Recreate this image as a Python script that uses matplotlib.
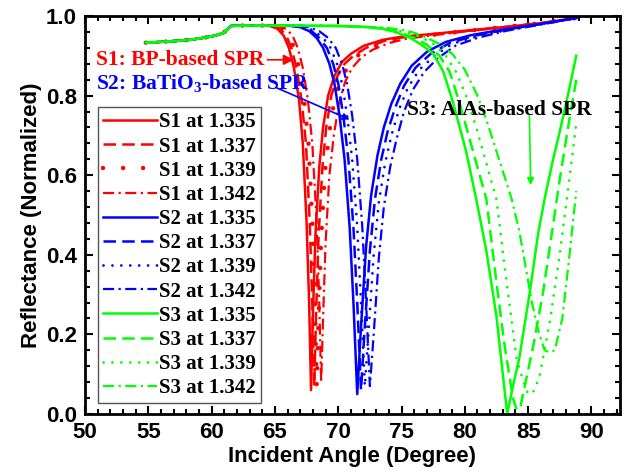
import matplotlib
matplotlib.use("Agg")
import matplotlib.pyplot as plt
from matplotlib.ticker import MultipleLocator

plt.rcParams["mathtext.fontset"] = "custom"
plt.rcParams["mathtext.bf"] = "Liberation Serif:bold"
plt.rcParams["mathtext.rm"] = "Liberation Serif"

# shared pre-resonance part (all 12 curves overlap here)
pre_x = [54.8, 55.5, 56.5, 57.5, 58.5, 59.5, 60.3, 60.9, 61.2, 61.5, 62.5, 63.5]
pre_r = [0.933, 0.934, 0.936, 0.938, 0.941, 0.946, 0.951, 0.957, 0.965, 0.975, 0.976, 0.976]

# S1: BP-based SPR
s1_x = {
    "1.335": [64.5, 65.2, 65.7, 66.1, 66.5, 66.9, 67.2, 67.5, 67.7, 67.85, 68.0, 68.2, 68.5, 68.8, 69.2, 69.7, 70.3, 71.0, 72.0, 73.5, 75.0, 77.5, 80.0, 83.0, 86.0, 88.8],
    "1.337": [64.7, 65.4, 65.9, 66.3, 66.7, 67.1, 67.45, 67.75, 67.95, 68.1, 68.25, 68.45, 68.75, 69.05, 69.45, 69.95, 70.5, 71.2, 72.2, 73.6, 75.0, 77.5, 80.0, 83.0, 86.0, 88.8],
    "1.339": [64.9, 65.6, 66.1, 66.5, 66.9, 67.3, 67.65, 67.95, 68.15, 68.3, 68.45, 68.65, 68.95, 69.3, 69.7, 70.2, 70.8, 71.5, 72.4, 73.8, 75.2, 77.5, 80.0, 83.0, 86.0, 88.8],
    "1.342": [65.2, 65.9, 66.4, 66.8, 67.2, 67.6, 67.95, 68.3, 68.5, 68.65, 68.8, 69.0, 69.3, 69.65, 70.05, 70.55, 71.1, 71.8, 72.7, 74.0, 75.4, 77.6, 80.0, 83.0, 86.0, 88.8],
}
s1_r = {
    "1.335": [0.976, 0.968, 0.95, 0.92, 0.87, 0.79, 0.68, 0.48, 0.28, 0.06, 0.25, 0.45, 0.62, 0.72, 0.80, 0.85, 0.885, 0.905, 0.925, 0.94, 0.948, 0.955, 0.963, 0.972, 0.982, 0.995],
    "1.337": [0.976, 0.968, 0.95, 0.92, 0.87, 0.79, 0.68, 0.48, 0.28, 0.07, 0.25, 0.45, 0.62, 0.72, 0.80, 0.85, 0.88, 0.90, 0.92, 0.937, 0.946, 0.954, 0.962, 0.972, 0.982, 0.995],
    "1.339": [0.976, 0.968, 0.95, 0.92, 0.87, 0.79, 0.68, 0.48, 0.28, 0.07, 0.25, 0.44, 0.61, 0.71, 0.79, 0.84, 0.875, 0.90, 0.918, 0.935, 0.945, 0.953, 0.962, 0.972, 0.982, 0.995],
    "1.342": [0.976, 0.968, 0.95, 0.92, 0.87, 0.79, 0.68, 0.48, 0.28, 0.08, 0.24, 0.43, 0.60, 0.70, 0.78, 0.835, 0.87, 0.895, 0.915, 0.932, 0.943, 0.952, 0.961, 0.971, 0.982, 0.995],
}

# S2: BaTiO3-based SPR
s2_x = {
    "1.335": [66.0, 67.0, 67.7, 68.3, 68.8, 69.3, 69.7, 70.1, 70.5, 70.9, 71.2, 71.5, 71.8, 72.2, 72.6, 73.1, 73.6, 74.2, 74.9, 75.8, 77.0, 78.5, 80.5, 83.0, 86.0, 88.8],
    "1.337": [66.2, 67.2, 67.9, 68.5, 69.1, 69.6, 70.0, 70.4, 70.8, 71.2, 71.5, 71.8, 72.1, 72.5, 72.9, 73.4, 73.9, 74.5, 75.2, 76.1, 77.3, 78.8, 80.7, 83.1, 86.0, 88.8],
    "1.339": [66.4, 67.4, 68.1, 68.8, 69.4, 69.9, 70.3, 70.7, 71.1, 71.5, 71.8, 72.1, 72.4, 72.8, 73.2, 73.7, 74.2, 74.8, 75.5, 76.4, 77.6, 79.0, 80.9, 83.2, 86.0, 88.8],
    "1.342": [66.7, 67.7, 68.5, 69.2, 69.8, 70.3, 70.7, 71.1, 71.5, 71.9, 72.2, 72.5, 72.8, 73.2, 73.6, 74.1, 74.6, 75.2, 75.9, 76.8, 77.9, 79.3, 81.1, 83.3, 86.1, 88.8],
}
s2_r = {
    "1.335": [0.976, 0.972, 0.962, 0.945, 0.92, 0.88, 0.83, 0.75, 0.64, 0.47, 0.28, 0.05, 0.22, 0.42, 0.55, 0.65, 0.72, 0.78, 0.83, 0.875, 0.91, 0.935, 0.952, 0.966, 0.98, 0.995],
    "1.337": [0.976, 0.972, 0.962, 0.945, 0.92, 0.88, 0.83, 0.75, 0.64, 0.47, 0.28, 0.06, 0.22, 0.41, 0.54, 0.64, 0.71, 0.77, 0.825, 0.87, 0.905, 0.932, 0.95, 0.965, 0.98, 0.995],
    "1.339": [0.976, 0.972, 0.962, 0.945, 0.92, 0.88, 0.83, 0.75, 0.64, 0.47, 0.28, 0.07, 0.21, 0.40, 0.53, 0.63, 0.70, 0.765, 0.82, 0.865, 0.90, 0.93, 0.948, 0.964, 0.98, 0.995],
    "1.342": [0.976, 0.972, 0.962, 0.945, 0.92, 0.88, 0.83, 0.75, 0.64, 0.47, 0.28, 0.07, 0.20, 0.39, 0.52, 0.62, 0.69, 0.76, 0.815, 0.86, 0.895, 0.926, 0.946, 0.963, 0.979, 0.995],
}

# S3: AlAs-based SPR
s3_x = {
    "1.335": [66.0, 70.0, 72.0, 73.5, 74.5, 75.7, 76.7, 77.5, 78.3, 79.0, 79.6, 80.1, 80.5, 80.9, 81.7, 82.5, 83.0, 83.35, 83.8, 84.3, 85.1, 85.8, 86.3, 86.9, 87.5, 88.2, 88.8],
    "1.337": [66.0, 70.0, 72.5, 74.0, 75.0, 76.0, 77.0, 78.0, 78.8, 79.6, 80.3, 81.0, 81.7, 82.5, 83.15, 83.8, 84.1, 84.4, 85.0, 85.4, 86.2, 86.9, 87.5, 88.1, 88.8],
    "1.339": [66.0, 70.0, 73.0, 74.5, 75.5, 76.5, 77.5, 78.5, 79.3, 80.1, 80.9, 81.7, 82.5, 83.3, 84.1, 84.6, 85.0, 85.4, 85.9, 86.7, 87.4, 88.1, 88.8],
    "1.342": [66.0, 70.0, 73.5, 75.0, 76.0, 77.0, 78.0, 79.0, 80.0, 81.0, 81.8, 82.5, 83.1, 83.7, 84.3, 84.8, 85.3, 85.8, 86.3, 86.7, 87.1, 87.7, 88.2, 88.8],
}
s3_r = {
    "1.335": [0.976, 0.975, 0.973, 0.968, 0.96, 0.945, 0.925, 0.905, 0.86, 0.79, 0.72, 0.66, 0.60, 0.54, 0.41, 0.245, 0.10, 0.0, 0.07, 0.14, 0.30, 0.455, 0.54, 0.63, 0.71, 0.81, 0.90],
    "1.337": [0.976, 0.975, 0.972, 0.966, 0.957, 0.945, 0.928, 0.9, 0.86, 0.78, 0.70, 0.62, 0.54, 0.33, 0.17, 0.04, 0.01, 0.02, 0.11, 0.17, 0.31, 0.46, 0.59, 0.71, 0.84],
    "1.339": [0.976, 0.975, 0.971, 0.965, 0.958, 0.948, 0.93, 0.9, 0.86, 0.8, 0.72, 0.63, 0.54, 0.33, 0.136, 0.085, 0.05, 0.055, 0.094, 0.23, 0.38, 0.55, 0.73],
    "1.342": [0.976, 0.975, 0.971, 0.966, 0.958, 0.945, 0.93, 0.905, 0.865, 0.8, 0.73, 0.66, 0.6, 0.54, 0.46, 0.37, 0.28, 0.21, 0.16, 0.155, 0.16, 0.24, 0.38, 0.56],
}

indices = ["1.335", "1.337", "1.339", "1.342"]
series = [("S1", "red", s1_x, s1_r), ("S2", "blue", s2_x, s2_r), ("S3", "#00ff00", s3_x, s3_r)]

serif = "Liberation Serif"
sans = "Liberation Sans"

fig = plt.figure(figsize=(6.3, 4.71), dpi=100)
ax = fig.add_axes([0.135, 0.121, 0.849, 0.845])

def style_for(sname, k):
    if k == 0:
        return dict(linestyle="-", lw=1.8)
    if k == 1:
        return dict(linestyle=(0, (5, 2.5)), lw=1.8)
    if k == 2:
        if sname == "S1":
            return dict(linestyle=(0, (0.01, 4.5)), lw=3.2, dash_capstyle="round")
        return dict(linestyle=(0, (0.01, 3.2)), lw=2.0, dash_capstyle="round")
    return dict(linestyle=(0, (5, 2, 1, 2)), lw=1.6)

for sname, col, xs, rs in series:
    for k, n in enumerate(indices):
        ax.plot(pre_x + xs[n], pre_r + rs[n], color=col,
                label=f"{sname} at {n}", **style_for(sname, k))

ax.set_xlim(50, 92.25)
ax.set_ylim(0, 1.0)
ax.xaxis.set_major_locator(MultipleLocator(5))
ax.xaxis.set_minor_locator(MultipleLocator(1))
ax.yaxis.set_major_locator(MultipleLocator(0.2))
ax.yaxis.set_minor_locator(MultipleLocator(0.04))
ax.tick_params(which="both", direction="in", top=True, right=True, width=1.5)
ax.tick_params(which="major", length=6, labelsize=16, pad=6)
ax.tick_params(which="minor", length=3.5)
for sp in ax.spines.values():
    sp.set_linewidth(2)
for lab in ax.get_xticklabels() + ax.get_yticklabels():
    lab.set_fontfamily(sans)
    lab.set_fontweight("bold")

ax.set_xlabel("Incident Angle (Degree)", fontsize=16, fontweight="bold",
              family=sans, labelpad=2)
ax.set_ylabel("Reflectance (Normalized)", fontsize=16, fontweight="bold",
              family=sans, labelpad=3)

leg = ax.legend(loc="upper left", bbox_to_anchor=(0.024, 0.771), borderaxespad=0,
                prop=dict(family=serif, weight="bold", size=15),
                handlelength=2.6, handletextpad=0.1, labelspacing=0.2,
                borderpad=0.25, fancybox=False, framealpha=1)
leg.get_frame().set_edgecolor("#555555")
leg.get_frame().set_linewidth(1.0)

# annotations
ax.annotate("S1: BP-based SPR", xy=(66.5, 0.89), xytext=(50.9, 0.89),
            color="red", fontsize=15.5, fontweight="bold", family=serif,
            va="center", arrowprops=dict(arrowstyle="-|>", color="red", lw=1.2,
                                         shrinkA=0, shrinkB=0))
ax.text(50.9, 0.83, "S2: BaTiO$_\\mathbf{3}$-based SPR", color="blue", fontsize=15.5,
        fontweight="bold", family=serif, va="center")
ax.annotate("", xy=(70.9, 0.74), xytext=(65.1, 0.82),
            arrowprops=dict(arrowstyle="-|>", color="blue", lw=1.2, shrinkA=0, shrinkB=0))
ax.text(75.4, 0.765, "S3: AlAs-based SPR", color="black", fontsize=15.5,
        fontweight="bold", family=serif, va="center")
ax.annotate("", xy=(85.2, 0.575), xytext=(85.1, 0.75),
            arrowprops=dict(arrowstyle="-|>", color="#00ff00", lw=1.2, shrinkA=0, shrinkB=0))

fig.savefig("out.png", dpi=100)
